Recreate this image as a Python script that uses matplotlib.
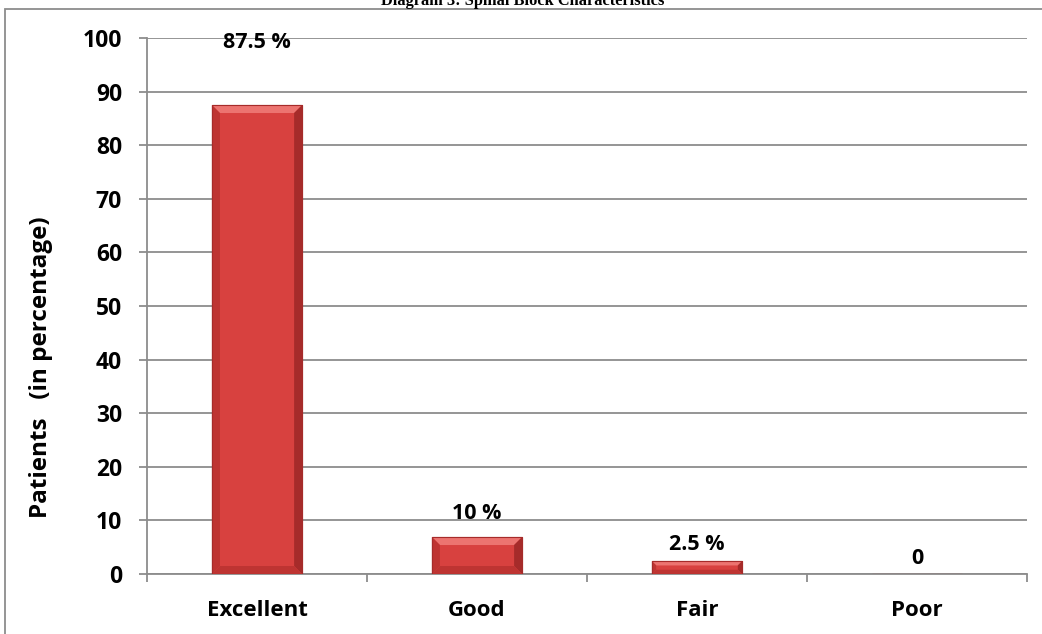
import matplotlib.pyplot as plt
import matplotlib.patches as patches
import numpy as np

# ============================================================
# Diagram 3: Spinal Block Characteristics
# ============================================================

categories = ['Excellent', 'Good', 'Fair', 'Poor']
values = [87.5, 6.9, 2.4, 0.0]
value_labels = ['87.5 %', '10 %', '2.5 %', '0']
yticks = [0, 10, 20, 30, 40, 50, 60, 70, 80, 90, 100]

# label offset above bar top, in pixels
label_offsets = [63, 24, 17, 16]

font = 'Open Sans'
grid_color = '#8c8c8c'
face = '#D8413F'
light = '#EC7470'
dark = '#A62B2A'
mid_dark = '#BE3432'

fig = plt.figure(figsize=(10.42, 6.34), dpi=100)
ax = fig.add_axes([0.1411, 0.0946, 0.8445, 0.8454])

x = np.arange(len(categories))
bars = ax.bar(x, values, width=0.41, color=face, edgecolor=dark,
              linewidth=0.8, zorder=3)

ax.set_xlim(-0.5, len(categories) - 0.5)
ax.set_ylim(0, 100)

# bevel effect built from each bar's own geometry
px_x = (len(categories)) / (0.8445 * 1042)   # data units per pixel in x
px_y = 100 / (0.8454 * 634)                   # data units per pixel in y
for b in bars:
    h = b.get_height()
    if h <= 0:
        continue
    x0, w = b.get_x(), b.get_width()
    x1, y1 = x0 + w, h
    by = min(8 * px_y, h / 3)
    bx = min(8 * px_x, by / px_y * px_x)
    # top
    ax.add_patch(patches.Polygon([(x0, y1), (x1, y1), (x1 - bx, y1 - by), (x0 + bx, y1 - by)],
                                 closed=True, facecolor=light, edgecolor='none', zorder=4))
    # left
    ax.add_patch(patches.Polygon([(x0, 0), (x0, y1), (x0 + bx, y1 - by), (x0 + bx, by)],
                                 closed=True, facecolor=mid_dark, edgecolor='none', zorder=4))
    # right
    ax.add_patch(patches.Polygon([(x1, 0), (x1, y1), (x1 - bx, y1 - by), (x1 - bx, by)],
                                 closed=True, facecolor=dark, edgecolor='none', zorder=4))
    # bottom
    ax.add_patch(patches.Polygon([(x0, 0), (x1, 0), (x1 - bx, by), (x0 + bx, by)],
                                 closed=True, facecolor=mid_dark, edgecolor='none', zorder=4))
    ax.add_patch(patches.Rectangle((x0, 0), w, h, facecolor='none', edgecolor=dark,
                                   linewidth=0.8, zorder=5))

# value labels
for xi, v, lab, off in zip(x, values, value_labels, label_offsets):
    ax.annotate(lab, xy=(xi, v), xytext=(0, off), textcoords='offset pixels',
                ha='center', va='center', fontsize=15.5, fontweight='bold',
                family=font, color='black', zorder=6)

# grid and spines
ax.set_yticks(yticks)
ax.yaxis.grid(True, color=grid_color, linewidth=1.3, zorder=0)
ax.set_axisbelow(True)
for s in ['top', 'right']:
    ax.spines[s].set_visible(False)
for s in ['left', 'bottom']:
    ax.spines[s].set_color(grid_color)
    ax.spines[s].set_linewidth(1.3)

ax.set_xticks(x)
ax.set_xticklabels(categories)
ax.set_xticks(np.arange(-0.5, len(categories)), minor=True)
ax.tick_params(axis='x', which='major', length=0, pad=19)
ax.tick_params(axis='x', which='minor', length=6, color=grid_color, width=1.3)
ax.tick_params(axis='y', length=6, color=grid_color, width=1.3, pad=12)
for lab in ax.get_xticklabels():
    lab.set_fontsize(16)
    lab.set_fontweight('bold')
    lab.set_family(font)
for lab in ax.get_yticklabels():
    lab.set_fontsize(16.5)
    lab.set_fontweight('bold')
    lab.set_family(font)

ax.set_ylabel('Patients   (in percentage)', fontsize=17.5, fontweight='bold',
              family=font)
ax.yaxis.label.set_va('center')
ax.yaxis.set_label_coords(-0.121, 0.386)

# title (partly cut off at the top edge, as in the source)
fig.text(0.502, 0.9915, 'Diagram 3: Spinal Block Characteristics', ha='center',
         va='baseline', fontsize=11.8, fontweight='bold', family='Liberation Serif')

# outer chart frame
frame = patches.Rectangle((0.005, -0.01), 1.2, 0.996, transform=fig.transFigure,
                          facecolor='none', edgecolor='#8c8c8c', linewidth=1.3)
fig.patches.append(frame)

fig.savefig('out.png', dpi=100)
